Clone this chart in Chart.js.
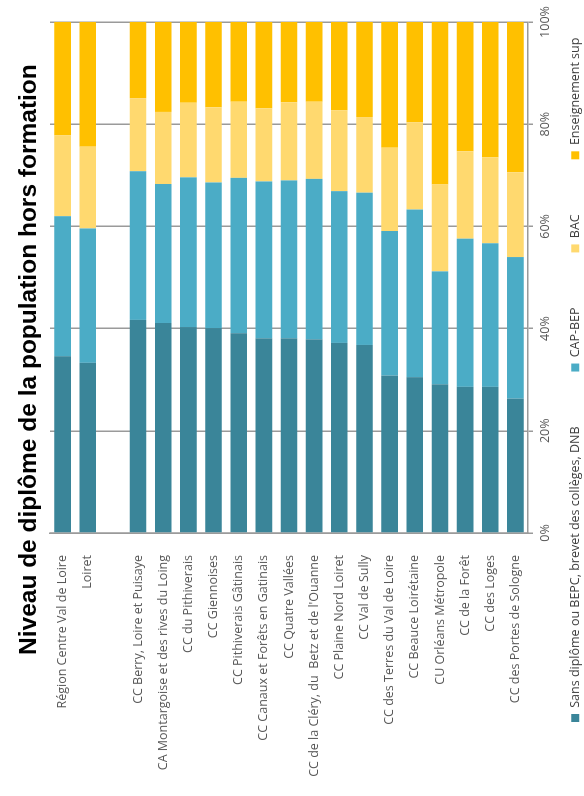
<!DOCTYPE html>
<html>
<head>
<meta charset="utf-8">
<title>Niveau de diplôme de la population hors formation</title>
<script src="https://cdn.jsdelivr.net/npm/chart.js"></script>
<style>
    html, body { margin: 0; padding: 0; background: #fff; width: 584px; height: 796px; overflow: hidden; }
    /* the chart is laid out horizontally, then turned a quarter turn */
    #wrap { position: absolute; left: 0; top: 796px; width: 796px; height: 592px; transform-origin: 0 0; transform: rotate(-90deg); }
    #titre { position: absolute; left: 141px; top: 14px; font: bold 24.5px "Liberation Sans", Arial, sans-serif; color: #000; white-space: nowrap; }
    canvas { position: absolute; left: 0; top: 0; }
</style>
</head>
<body>
<div id="wrap">
    <canvas id="myChart" width="796" height="592"></canvas>
    <div id="titre">Niveau de diplôme de la population hors formation</div>
</div>
<script>
    var categories = [
        'Région Centre Val de Loire', 'Loiret', '',
        'CC Berry, Loire et Puisaye', 'CA Montargoise et des rives du Loing',
        'CC du Pithiverais', 'CC Giennoises', 'CC Pithiverais Gâtinais',
        'CC Canaux et Forêts en Gatinais', 'CC Quatre Vallées',
        "CC de la Cléry, du  Betz et de l'Ouanne", 'CC Plaine Nord Loiret',
        'CC Val de Sully', 'CC des Terres du Val de Loire', 'CC Beauce Loirétaine',
        'CU Orléans Métropole', 'CC de la Forêt', 'CC des Loges', 'CC des Portes de Sologne'
    ];
    var seriesNames = ['Sans diplôme ou BEPC, brevet des collèges, DNB', 'CAP-BEP', 'BAC', 'Enseignement sup'];
    var sansDiplome = [34.6, 33.3, null, 41.7, 41.1, 40.3, 40.1, 39.1, 38.1, 38.1, 37.9, 37.2, 36.8, 30.8, 30.5, 29.1, 28.6, 28.6, 26.3];
    var capBep = [27.4, 26.3, null, 29.1, 27.2, 29.3, 28.5, 30.4, 30.7, 30.9, 31.4, 29.7, 29.8, 28.3, 32.8, 22.1, 29.0, 28.1, 27.7];
    var bac = [15.8, 16.0, null, 14.3, 14.1, 14.6, 14.7, 14.9, 14.3, 15.3, 15.1, 15.8, 14.8, 16.3, 17.1, 17.0, 17.1, 16.8, 16.6];
    var enseignementSup = [22.2, 24.4, null, 14.9, 17.6, 15.8, 16.7, 15.6, 16.9, 15.7, 15.6, 17.3, 18.6, 24.6, 19.6, 31.8, 25.3, 26.5, 29.4];
    var tickValues = [0, 20, 40, 60, 80, 100];

    var colors = ['#3a8599', '#4bacc6', '#ffd96f', '#ffc000'];
    var labelFont = { family: '"Open Sans", "Noto Sans", sans-serif', size: 12.5 };
    var gridGrey = '#9a9a9a';
    var legendRowY = 576;   // centre of the legend row

    var ctx = document.getElementById('myChart').getContext('2d');

    var myChart = new Chart(ctx, {
        type: 'bar',
        data: {
            labels: categories,
            datasets: [sansDiplome, capBep, bac, enseignementSup].map(function (values, i) {
                return {
                    label: seriesNames[i],
                    data: values,
                    backgroundColor: colors[i],
                    borderWidth: 0
                };
            })
        },
        options: {
            indexAxis: 'y',
            responsive: false,
            animation: false,
            barPercentage: 0.66,
            categoryPercentage: 1,
            layout: { padding: { top: 50, right: 22, left: 19, bottom: 0 } },
            scales: {
                x: {
                    stacked: true,
                    min: 0,
                    max: 100,
                    afterBuildTicks: function (scale) {
                        scale.ticks = tickValues.map(function (v) { return { value: v }; });
                    },
                    ticks: {
                        callback: function (v) { return v + '%'; },
                        color: '#595959',
                        font: labelFont,
                        padding: 5
                    },
                    grid: { color: gridGrey, lineWidth: 1.5, tickLength: 5 },
                    border: { color: gridGrey, width: 1.5 }
                },
                y: {
                    stacked: true,
                    grid: { display: false },
                    border: { color: gridGrey, width: 1.5 },
                    ticks: { color: '#595959', font: labelFont, padding: 14, autoSkip: false },
                    afterFit: function (scale) { scale.width = 244; }
                }
            },
            plugins: {
                legend: {
                    position: 'bottom',
                    align: 'start',
                    maxHeight: 34,
                    labels: { boxWidth: 8, boxHeight: 8, padding: 55, color: '#404040', font: labelFont }
                },
                tooltip: { enabled: false }
            }
        },
        plugins: [{
            // wide gaps between legend entries would make the legend box tall and wrap,
            // so the box is kept small in the layout and stretched here for drawing
            id: 'legendRow',
            afterLayout: function (chart) {
                var lg = chart.legend;
                lg.top = legendRowY - lg.options.labels.padding - 7;
                lg.bottom = chart.height;
                lg.right = chart.width + 400;
                lg.width = lg.right - lg.left;
                lg.height = lg.bottom - lg.top;
            }
        }]
    });
</script>
</body>
</html>
